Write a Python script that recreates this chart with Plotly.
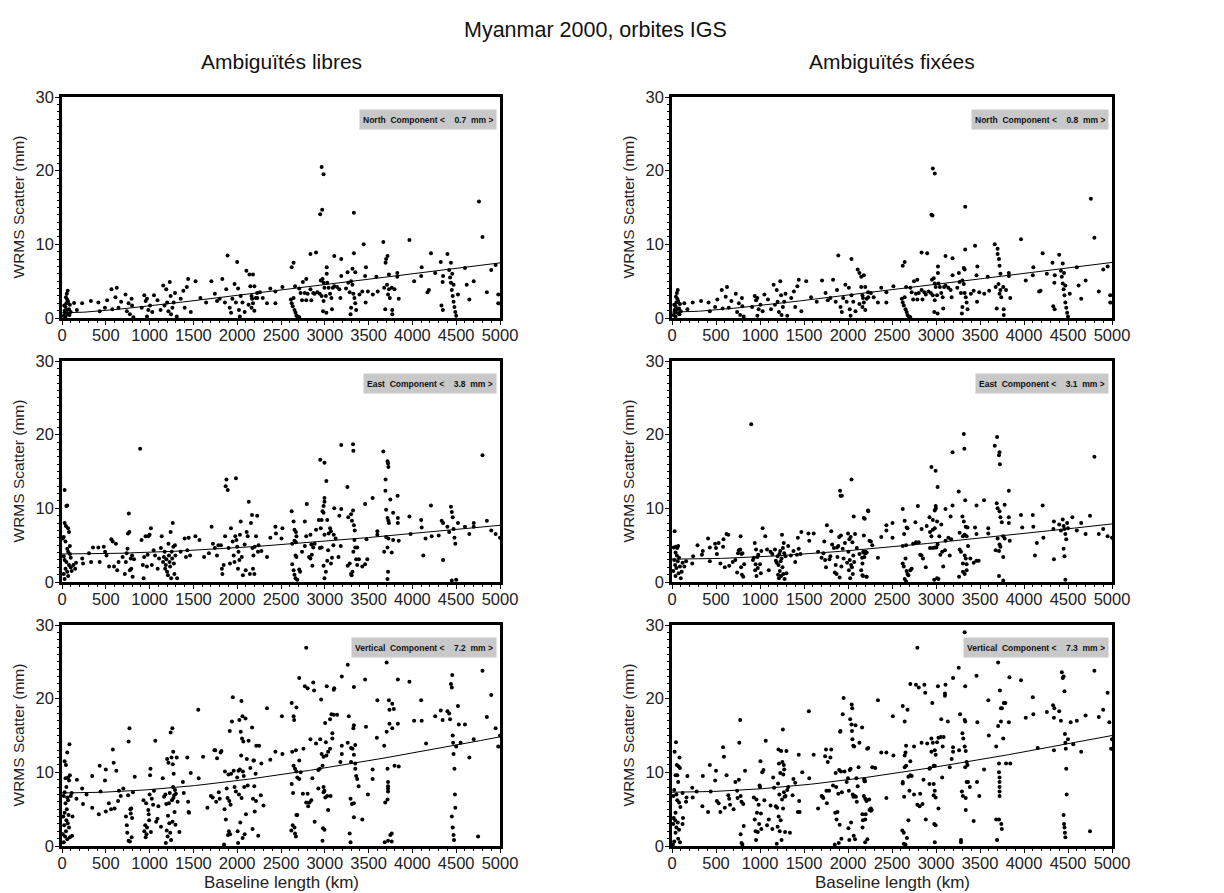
import math
import plotly.graph_objects as go

# ---------------- data (baseline km, WRMS mm) ----------------
north_libre = [
(20,0.3),(30,1.0),(40,1.5),(50,2.0),(60,2.5),(55,3.3),(65,3.7),(70,0.5),(80,1.2),(90,1.8),(40,0.2),(100,0.8),(70,2.2),(45,2.8),(85,0.4),(25,1.7),(60,1.1),(35,0.7),
(138,2.05),(170,1.1),(230,2.0),(330,2.3),(415,2.1),(430,0.9),(490,1.4),(515,2.4),(565,3.9),(610,2.8),(625,4.1),(575,1.2),(645,1.4),(675,2.2),(725,3.2),(740,0.9),(775,0.5),(795,2.6),(760,2.0),(800,1.7),(815,0.1),
(910,1.4),(940,3.1),(955,2.3),(970,2.6),(985,1.1),(970,0.2),(1005,1.7),(1030,0.8),(1050,3.1),(1090,2.4),(1125,1.1),(1155,4.4),(1170,1.7),(1190,3.9),(1200,2.1),(1215,0.9),(1230,4.9),(1240,3.0),(1245,0.5),(1260,1.4),(1275,2.1),(1290,3.4),(1310,0.2),(1355,2.6),(1385,3.7),(1400,1.4),(1425,4.2),(1440,5.3),(1470,0.8),(1525,5.0),(1580,2.7),(1645,2.1),(1705,5.0),(1745,3.3),(1770,2.3),(1800,2.6),(1830,5.3),(1860,2.1),(1875,3.9),(1890,8.5),(1915,1.4),(1930,0.7),(1945,2.6),(1970,4.6),(1985,2.1),(2000,7.6),(2010,4.0),(2020,1.1),(2030,0.2),(2040,3.0),(2060,2.1),(2085,0.8),(2105,6.4),(2140,5.9),(2130,1.8),(2150,4.3),(2170,2.6),(2230,2.7),
(2180,5.9),(2196,4.3),(2164,3.0),(2228,3.4),(2260,3.5),(2292,2.7),(2212,2.7),(2180,2.0),(2164,1.4),(2196,1.0),(2340,2.0),(2378,4.0),(2436,3.6),(2436,2.0),(2516,4.2),(2612,2.5),(2622,2.0),(2634,1.6),(2644,2.7),(2654,1.1),(2666,0.7),(2676,0.3),(2692,0.2),(2708,0.1),(2660,4.3),(2708,4.0),(2750,4.9),(2788,5.3),(2724,3.4),(2772,3.4),(2804,3.3),(2836,3.9),(2868,3.4),(2740,2.4),(2788,2.4),(2846,2.4),(2884,3.3),(2916,3.5),(2954,5.1),(2974,5.3),(2986,4.8),(2996,4.1),(2942,3.3),(2964,3.0),(2986,2.3),(3012,3.0),(3028,4.8),(3044,4.1),(3060,3.3),(3076,2.7),(2980,0.9),(3018,0.7),(3082,1.2),(3092,4.1),(3108,4.3),(3140,4.2),(3166,3.9),(3178,2.7),(3242,4.0),(3268,4.8),(3284,3.5),(3300,5.0),(3316,4.5),(3326,3.3),(3338,2.7),(3348,2.0),(3358,1.1),(3300,1.4),(3294,0.5),(3396,3.2),(3428,3.6),(3466,2.1),(3492,3.6),(3548,3.2),(3604,3.6),(3678,4.1),(3710,4.5),(3732,3.9),(3722,3.2),(3742,2.7),(3764,4.1),(3796,3.9),(3844,2.6),(3690,1.2),(3770,1.1),(3770,0.5),(4172,3.5),(4188,3.8),(4332,1.7),(4348,1.1),
(2964,20.5),(2986,19.5),(2948,14.1),(2970,14.7),(3332,14.3),(3444,10.0),(3668,10.3),(3966,10.6),(4212,8.8),(2836,8.7),(2900,8.9),(3108,8.4),(3188,8.0),(3332,8.8),(2644,7.5),(2622,6.9),(3700,8.0),(3716,8.4),(3694,7.5),(4324,7.6),(4106,6.9),(3022,6.9),(3316,6.7),(3348,6.2),(3470,6.9),(3260,6.2),(3022,6.0),(3188,5.7),(3460,5.7),(3588,5.6),(3732,5.9),(3828,6.1),(3828,5.6),(4260,6.1),(4100,5.7),(4020,5.0),(4350,5.7),(4345,4.9),
(4420,6.5),(4430,5.5),(4440,4.8),(4450,3.8),(4460,3.0),(4470,2.2),(4480,1.5),(4490,0.8),(4500,0.3),(4440,7.5),(4455,6.0),(4470,4.5),(4520,3.2),(4600,6.8),(4620,4.5),(4650,2.5),(4700,5.0),(4760,15.8),(4800,11.0),(4850,3.5),(4900,6.5),(4950,7.2),(4980,3.2),(4980,2.0),(4400,8.7)]

north_fixe = [
(20,0.4),(30,1.1),(40,1.6),(50,2.1),(60,2.6),(55,3.4),(65,3.8),(70,0.6),(80,1.3),(90,1.9),(40,0.2),(100,0.9),(70,2.3),(45,2.9),(85,0.5),(25,1.8),(60,1.2),(35,0.8),
(140,2.0),(175,1.2),(235,2.1),(330,2.3),(415,2.1),(430,0.9),(490,1.5),(515,2.5),(565,3.8),(610,2.9),(625,4.2),(575,1.3),(645,1.4),(675,2.3),(725,3.3),(740,0.8),(775,0.4),(795,2.7),(760,2.0),(800,1.6),(815,0.2),
(910,1.5),(940,3.0),(955,2.4),(970,2.7),(985,1.2),(970,0.3),(1005,1.8),(1030,0.9),(1050,3.2),(1090,2.5),(1125,1.2),(1155,4.5),(1170,1.8),(1190,3.8),(1200,2.2),(1215,0.8),(1230,5.0),(1240,3.1),(1245,0.4),(1260,1.5),(1275,2.2),(1290,3.3),(1310,0.3),(1355,2.7),(1385,3.6),(1400,1.5),(1425,4.3),(1440,5.2),(1470,0.9),(1525,5.0),(1580,2.8),(1645,2.2),(1705,5.1),(1745,3.4),(1770,2.4),(1800,2.7),(1830,5.2),(1860,2.2),(1875,3.8),(1890,8.5),(1915,1.5),(1930,0.8),(1945,2.7),(1970,4.5),(1985,2.2),(2040,8.0),(2010,4.1),(2020,1.2),(2030,0.3),(2040,3.1),(2060,2.2),(2085,0.9),(2110,6.6),(2130,6.1),(2150,5.6),(2130,1.9),(2150,4.2),(2170,2.7),(2230,2.8),
(2180,5.8),(2196,4.2),(2164,3.1),(2228,3.5),(2260,3.4),(2292,2.8),(2212,2.6),(2180,2.1),(2164,1.5),(2196,1.1),(2340,2.1),(2378,4.1),(2436,3.5),(2436,2.1),(2516,4.3),(2612,2.6),(2622,2.1),(2634,1.7),(2644,2.8),(2654,1.2),(2666,0.8),(2676,0.4),(2692,0.2),(2708,0.1),(2660,4.2),(2708,4.1),(2750,5.0),(2788,5.2),(2724,3.5),(2772,3.3),(2804,3.4),(2836,3.8),(2868,3.5),(2740,2.5),(2788,2.5),(2846,2.5),(2884,3.2),(2916,3.6),(2954,5.2),(2974,5.4),(2986,4.7),(2996,4.2),(2942,3.4),(2964,3.1),(2986,2.4),(3012,3.1),(3028,4.7),(3044,4.2),(3060,3.4),(3076,2.8),(2980,0.8),(3018,0.6),(3082,1.3),(3092,4.2),(3108,4.4),(3140,4.1),(3166,3.8),(3178,2.8),(3242,4.1),(3268,4.9),(3284,3.4),(3300,5.1),(3316,4.6),(3326,3.4),(3338,2.8),(3348,2.1),(3358,1.2),(3300,1.5),(3294,0.6),(3396,3.3),(3428,3.7),(3466,2.2),(3492,3.5),(3548,3.3),(3604,3.7),(3678,4.2),(3710,4.6),(3732,3.8),(3722,3.3),(3742,2.8),(3764,4.2),(3796,3.8),(3844,2.7),(3690,1.3),(3770,1.2),(3770,0.4),(4172,3.6),(4188,3.7),(4332,1.6),(4348,1.2),
(2964,20.3),(2986,19.6),(2948,14.0),(2960,13.9),(3332,15.1),(3444,9.8),(3668,10.0),(3966,10.7),(4212,8.8),(2836,8.9),(2900,8.8),(3108,8.4),(3188,8.1),(3332,9.3),(2644,7.6),(2622,7.1),(3700,8.7),(3700,9.4),(3716,8.0),(3722,7.1),(4324,7.5),(4106,6.9),(3022,7.0),(3316,6.8),(3326,6.6),(3470,7.0),(3260,6.1),(3022,6.1),(3188,5.8),(3460,5.8),(3588,5.6),(3732,6.0),(3828,6.1),(3828,5.7),(4260,6.0),(4100,5.8),(4020,5.1),(4350,5.8),(4345,4.8),
(4420,6.4),(4430,5.6),(4440,4.7),(4450,3.9),(4460,3.1),(4470,2.1),(4480,1.4),(4490,0.7),(4500,0.2),(4440,7.4),(4455,6.1),(4470,4.4),(4520,3.3),(4600,6.9),(4620,4.4),(4650,2.6),(4700,5.1),(4760,16.2),(4800,10.9),(4850,3.6),(4900,6.6),(4950,7.0),(4980,3.1),(4980,2.1),(4400,8.6)]

east_libre = [
(30,12.5),(50,10.3),(60,10.4),(30,8.0),(45,7.6),(70,7.3),(80,6.8),(20,6.1),(10,5.9),(40,5.5),(60,4.5),(70,4.1),(90,3.8),(20,3.5),(30,3.0),(50,2.7),(80,2.3),(100,2.0),(40,1.8),(60,1.4),(20,1.1),(70,0.8),(30,0.4),(110,1.5),(130,2.3),(150,1.8),(160,2.6),(90,4.9),(100,3.3),
(231,3.2),(240,2.5),(308,3.9),(332,2.7),(354,4.7),(415,4.7),(430,2.7),(477,4.8),(492,4.1),(508,3.6),(538,2.1),(563,5.8),(578,5.5),(594,2.1),(615,5.2),(630,1.6),(646,2.7),(692,3.4),(717,1.1),(729,2.7),(738,3.9),(748,4.5),(754,6.6),(769,6.8),(775,1.6),(785,3.2),(791,1.8),(763,9.3),(800,3.6),(806,0.7),(822,3.1),(892,18.1),(908,5.7),(923,2.3),(932,0.5),(938,3.4),(954,6.2),(969,2.1),(978,3.7),(985,6.2),(1000,6.4),(1015,7.3),(1025,2.3),(1046,4.3),(1062,3.6),(1092,1.8),(1108,3.2),(1129,4.6),(1138,6.2),(1154,2.7),(1163,3.4),(1172,4.1),(1178,1.8),(1185,2.3),(1191,3.1),(1200,1.4),(1209,0.9),(1215,5.2),(1221,3.6),(1228,2.7),(1234,2.1),(1240,6.8),(1246,0.5),(1252,4.1),(1258,3.2),(1264,8.0),(1271,4.8),(1277,2.5),(1283,1.1),(1289,5.0),(1295,3.6),(1314,0.5),(1354,4.1),(1400,5.9),(1415,3.4),(1431,4.3),(1446,6.0),(1462,3.6),(1523,6.2),(1569,5.7),(1622,3.4),(1677,3.9),(1708,7.5),(1723,5.2),(1745,4.6),(1769,3.6),(1785,5.0),(1815,5.0),(1825,1.8),(1831,1.1),(1846,2.3),(1862,6.2),(1868,13.0),(1877,13.9),(1892,12.5),(1902,4.6),(1917,2.5),(1929,7.3),(1948,5.5),(1960,3.6),(1969,2.7),(1978,6.2),(1985,14.1),(1991,5.7),(2000,4.8),(2009,1.8),(2015,4.1),(2025,3.0),(2031,6.4),(2040,8.2),(2052,3.4),(2065,0.9),(2085,5.1),(2097,1.6),(2108,6.8),(2120,6.2),(2132,10.9),(2145,1.1),(2157,8.0),(2169,9.1),(2185,3.6),(2200,4.8),(2215,6.2),(2237,4.1),
(3188,18.6),(3322,18.7),(3326,17.8),(3668,17.7),(3716,16.4),(3722,16.1),(3726,15.6),(2948,16.6),(2996,16.2),(3018,13.7),(3258,12.9),(3694,13.9),(3692,12.4),(3748,11.2),(3831,11.7),(3546,11.4),(3460,10.6),(2996,11.4),(2996,10.9),(2986,10.3),(2794,10.6),(3108,10.0),(3188,9.9),(3166,9.0),(3268,8.8),(3300,9.2),(3322,9.7),(3310,8.3),(3332,7.7),(3342,7.0),(3700,9.8),(3716,8.7),(3726,8.3),(3732,8.0),(3780,9.4),(3834,8.7),(3834,8.0),(3966,8.9),(4100,8.4),(4106,7.4),(4212,10.4),(4334,8.3),(4350,8.0),(2622,9.6),(2644,8.2),(2654,7.1),(2670,6.8),(2676,6.2),(2654,5.6),(2628,5.2),(2670,5.4),(2378,6.0),(2436,7.5),(2442,6.6),(2516,7.3),(2506,5.9),(2772,8.2),(2788,6.2),(2836,6.4),(2900,7.1),(2932,8.4),(2964,8.4),(2954,7.3),(2974,9.6),(2986,9.4),(2996,6.4),(3028,8.4),(3044,6.6),(3060,7.3),(3070,6.9),(3102,6.4),(3124,5.9),(2846,5.1),(2868,4.7),(2740,4.1),(2772,4.9),(2820,3.4),(2836,3.2),(2852,3.7),(2858,2.2),(2884,5.2),(2942,4.6),(2964,4.7),(2986,2.2),(3012,1.4),(3028,2.9),(3038,4.3),(3070,2.5),(3082,3.3),(3098,5.0),(3156,3.4),(3182,4.9),(3262,2.2),(3284,2.5),(3300,1.1),(3306,0.9),(3316,1.4),(3326,4.1),(3338,5.7),(3348,4.7),(3358,3.1),(3370,4.7),(3370,2.3),(3390,3.1),(3428,2.1),(3460,2.4),(3485,3.1),(3476,5.8),(3600,6.9),(3600,6.4),(3678,4.1),(3700,6.1),(3716,4.7),(3726,5.9),(3764,4.0),(3780,5.7),(3844,5.6),(3980,6.5),(4124,3.6),(4150,5.9),(4220,6.2),(4300,6.3),(4350,3.0),(2628,2.4),(2644,1.6),(2654,1.0),(2666,0.5),(2686,0.3),(2708,1.7),(2718,1.4),(2676,3.4),(2666,3.6),(2340,3.4),(2276,4.2),(2244,5.0),(2228,9.0),(2996,0.5),(3722,1.4),(3716,0.4),(2174,4.6),(2180,1.8),(2196,1.1),
(4400,7.5),(4420,6.8),(4440,10.2),(4450,9.5),(4460,8.8),(4470,7.2),(4480,6.0),(4490,5.2),(4500,0.3),(4450,0.2),(4520,8.0),(4600,7.5),(4650,6.5),(4700,7.5),(4800,17.2),(4850,8.3),(4900,7.0),(4950,6.5),(5000,6.0),(4700,8.0)]

east_fixe = [
(30,6.9),(20,4.7),(45,4.8),(60,4.6),(70,4.9),(40,4.0),(55,3.6),(80,3.3),(25,3.0),(65,2.8),(35,2.3),(90,2.1),(50,1.9),(15,1.5),(75,1.2),(40,0.8),(100,0.5),(110,1.4),(120,2.6),(140,2.1),(160,2.8),(230,2.5),(240,3.5),(290,5.0),(340,3.7),(350,4.2),(410,5.9),(430,4.7),(430,2.8),(490,5.2),(500,4.6),(510,3.8),(530,5.3),(550,2.5),(580,4.8),(585,5.8),(600,2.0),(620,6.5),(640,6.4),(650,2.2),(690,2.7),(720,3.0),(740,1.3),(750,3.9),(760,4.3),(775,4.4),(780,6.2),(785,2.0),(790,3.8),(795,1.0),(800,3.9),(810,0.7),(820,2.4),(900,21.4),(920,3.0),(930,3.3),(940,5.3),(945,1.6),(950,2.4),(955,4.4),(960,0.8),(970,3.4),(975,1.9),(980,3.7),(1000,2.4),(1010,1.2),(1015,4.2),(1030,7.3),(1060,6.2),(1080,4.4),(1100,1.6),(1120,4.1),(1140,3.8),(1170,4.4),(1180,2.9),(1190,2.6),(1200,3.5),(1205,1.0),(1210,2.3),(1215,0.5),(1220,3.8),(1225,1.5),(1230,4.2),(1235,2.8),(1240,0.8),(1245,3.2),(1250,6.4),(1255,2.0),(1260,4.6),(1265,1.1),(1270,5.3),(1275,3.9),(1280,0.4),(1290,3.5),(1300,1.2),(1320,4.9),(1350,3.6),(1380,4.2),(1400,2.7),(1420,3.7),(1430,6.0),(1440,4.5),(1460,3.8),(1470,6.8),(1550,6.6),(1560,5.6),(1610,6.6),(1660,4.1),(1700,3.3),(1720,3.9),(1730,5.5),(1740,3.0),(1750,2.0),(1760,7.7),(1790,3.1),(1800,3.5),(1810,6.9),(1820,5.1),(1840,4.6),(1850,1.3),(1860,2.3),(1870,1.1),(1875,4.7),(1880,3.4),(1890,4.9),(1900,6.1),(1905,0.6),(1910,12.4),(1915,11.7),(1920,6.3),(1925,2.1),(1930,11.7),(1940,4.5),(1950,3.2),(1965,5.3),(1990,2.6),(2000,6.6),(2005,4.1),(2010,1.6),(2015,5.8),(2020,3.0),(2025,0.5),(2030,6.1),(2035,2.3),(2040,13.9),(2045,2.0),(2050,5.4),(2055,1.1),(2060,3.6),(2065,8.9),(2070,2.7),(2080,6.5),(2100,4.6),(2130,3.8),(2150,1.6),(2160,3.3),(2170,0.8),(2175,4.0),(2180,6.3),(2190,8.6),(2200,4.1),(2210,0.7),(2230,9.6),(2260,5.5),
(3316,20.1),(3322,18.1),(3694,19.7),(3668,18.5),(3722,17.6),(3716,17.2),(3726,16.0),(3188,17.6),(2948,15.6),(2996,15.1),(3018,12.9),(3258,12.3),(3828,12.4),(3332,11.1),(3546,11.1),(3460,10.4),(3188,10.4),(2996,10.3),(2986,9.7),(2998,10.0),(3108,9.9),(2794,10.3),(2622,9.9),(2228,9.7),(2180,8.7),(3166,8.9),(2926,8.8),(2964,8.4),(3300,8.9),(3316,8.2),(3338,7.5),(3358,7.4),(3690,10.7),(3700,10.0),(3722,9.6),(3732,8.8),(3748,8.1),(3780,10.5),(3828,8.8),(3828,8.0),(3966,9.1),(4100,9.1),(4106,7.5),(4212,10.4),(4340,8.2),(4334,7.2),(3980,7.4),(2644,8.3),(2666,7.4),(2676,7.3),(2638,6.5),(2622,4.9),(2660,5.0),(2766,8.1),(2836,7.2),(2894,7.6),(2932,6.8),(2948,6.2),(2964,7.1),(2986,7.3),(3012,8.2),(3038,6.2),(3060,7.8),(3108,5.6),(3140,6.0),(3172,5.8),(3268,6.7),(3306,6.2),(3326,6.4),(3348,6.2),(3364,4.9),(3444,7.4),(3460,6.5),(3594,7.3),(3594,6.6),(3700,5.9),(3722,5.1),(3732,4.8),(3764,6.2),(3780,5.9),(3838,5.6),(3678,4.3),(3716,4.2),(3764,3.4),(4146,5.3),(4220,6.0),(4124,3.6),(4340,3.1),(2378,6.1),(2436,7.0),(2436,7.7),(2506,8.0),(2506,6.0),(2244,5.6),(2276,5.0),(2340,3.3),(2174,4.1),(2196,3.9),(2212,4.0),(2164,2.5),(2186,3.4),(2164,0.9),(2212,0.7),(2740,5.2),(2772,5.4),(2804,5.4),(2820,3.7),(2836,3.6),(2852,3.2),(2884,2.0),(2932,4.6),(2964,4.6),(2986,4.7),(3004,4.7),(3018,5.1),(3050,3.7),(3070,4.1),(3082,2.1),(3102,4.3),(3156,3.6),(3268,4.4),(3284,4.1),(3306,2.5),(3326,3.6),(3338,3.2),(3348,2.4),(3348,1.6),(3326,1.1),(3306,1.4),(3262,0.7),(3390,3.2),(3428,2.6),(3460,2.9),(3485,2.9),(2622,2.5),(2634,2.1),(2654,3.2),(2666,1.5),(2676,1.1),(2686,0.9),(2708,1.6),(2724,1.8),(2644,0.4),(2660,0.1),(2980,0.3),(3012,0.5),(3028,0.4),(3716,0.8),(3764,0.2),
(4420,7.0),(4440,8.5),(4450,7.6),(4460,7.2),(4470,6.5),(4480,5.8),(4490,8.0),(4450,4.5),(4460,3.5),(4470,0.3),(4500,7.3),(4550,8.8),(4600,7.0),(4650,8.0),(4700,6.5),(4750,9.0),(4800,17.0),(4850,6.5),(4900,7.2),(4950,6.2),(5000,6.0),(4400,7.8)]

vert_libre = [
(30,11.5),(45,11.0),(60,12.7),(85,13.8),(40,9.2),(70,9.3),(90,9.6),(80,8.9),(50,8.0),(30,7.3),(20,6.8),(60,6.6),(70,6.2),(100,6.8),(110,7.2),(40,5.8),(55,5.0),(30,4.5),(75,4.2),(15,4.0),(50,3.5),(65,3.1),(25,2.8),(80,2.5),(45,2.0),(10,1.6),(35,1.3),(60,0.9),(20,0.5),(90,1.2),(115,1.4),(120,4.0),(165,6.4),(170,9.0),(230,7.8),(240,5.7),(280,7.0),(345,9.5),(345,5.2),(420,4.3),(430,10.9),(440,7.4),(490,8.9),(500,10.4),(500,4.7),(535,5.8),(560,5.0),(580,13.1),(590,11.3),(600,5.1),(620,10.2),(640,6.1),(650,7.5),(670,6.8),(700,7.8),(730,4.0),(740,2.8),(745,1.8),(755,6.9),(760,14.2),(770,16.0),(760,0.7),(775,0.6),(780,5.0),(785,4.4),(790,5.1),(795,1.2),(800,3.8),(810,7.3),(830,9.4),(930,6.2),(940,2.0),(950,2.8),(955,1.2),(960,5.8),(965,1.6),(970,2.5),(985,4.9),(990,4.3),(995,3.5),(1000,7.0),(1005,9.6),(1010,10.5),(1015,1.9),(1025,6.4),(1040,5.6),(1050,7.5),(1065,14.3),(1075,3.3),(1090,3.7),(1100,5.4),(1130,2.6),(1150,9.2),(1165,6.7),(1180,7.0),(1185,0.4),(1190,5.7),(1195,2.1),(1200,11.8),(1205,1.3),(1210,4.1),(1215,11.3),(1220,5.8),(1225,3.1),(1230,7.2),(1235,1.8),(1240,15.4),(1245,0.8),(1250,12.0),(1255,6.2),(1260,16.0),(1262,3.3),(1265,11.1),(1268,8.0),(1270,12.8),(1272,6.5),(1275,9.8),(1280,6.9),(1285,4.6),(1290,7.6),(1295,2.9),(1300,7.1),(1310,12.0),(1320,6.0),(1340,1.9),(1380,8.7),(1390,7.2),(1430,12.0),(1440,6.0),(1445,4.6),(1450,4.5),(1470,9.9),(1555,18.5),(1560,9.2),(1610,12.1),(1660,5.2),(1700,6.8),(1720,6.6),(1740,13.0),(1750,13.0),(1760,6.0),(1770,11.9),(1790,7.3),(1800,6.4),(1810,12.7),(1820,12.9),(1850,0.2),(1855,5.0),(1860,10.1),(1870,3.6),(1880,7.8),(1890,6.5),(1895,1.5),(1900,9.7),(1905,2.0),(1910,6.1),(1915,15.6),(1920,1.6),(1925,5.6),(1930,9.8),(1940,16.9),(1950,20.2),(1960,10.2),(1970,8.0),(1985,7.4),(2000,9.3),(2005,2.0),(2010,0.4),(2015,10.2),(2020,7.0),(2025,17.1),(2030,10.4),(2035,3.2),(2040,15.5),(2045,12.3),(2048,19.7),(2050,6.5),(2055,14.6),(2060,17.6),(2062,1.1),(2065,10.1),(2070,14.2),(2075,9.5),(2080,8.0),(2085,1.6),(2095,17.3),(2100,4.3),(2110,11.8),(2120,8.2),(2130,14.3),(2150,10.6),(2170,16.1),(2175,2.3),(2180,6.4),(2190,11.6),(2195,8.1),(2200,4.7),(2210,9.8),(2215,6.1),(2240,1.4),(2250,13.6),(2270,6.9),(2300,5.5),
(2788,26.9),(3262,24.6),(3706,24.9),(2708,22.8),(2772,21.7),(2804,21.4),(2868,22.2),(2878,21.1),(3022,21.7),(3108,21.4),(3102,21.2),(3194,23.0),(3332,21.6),(3460,22.6),(3834,22.6),(3966,22.3),(2340,18.7),(2622,19.4),(2676,18.8),(2644,17.6),(2650,17.1),(2510,17.6),(2958,19.9),(3004,16.7),(3076,17.9),(3102,17.8),(3140,17.8),(3060,17.2),(3274,17.6),(3332,16.4),(3326,16.0),(3470,16.2),(3600,19.8),(3732,19.8),(3770,19.3),(3738,18.5),(3788,18.6),(3738,16.6),(3706,15.5),(3770,16.0),(3834,16.6),(4020,17.0),(4106,17.0),(4100,19.8),(4260,17.6),(4324,18.4),(4345,17.1),(3594,14.7),(4156,13.9),(3678,13.6),(2836,14.5),(2900,13.9),(2948,14.5),(3012,14.1),(2964,12.5),(2986,12.1),(3018,12.3),(3038,12.8),(3060,13.2),(3086,14.6),(3086,15.3),(3262,14.0),(3194,13.6),(3194,12.5),(3178,11.4),(3300,13.3),(3316,13.2),(3332,12.4),(3348,13.7),(2756,13.2),(2670,13.0),(2708,11.6),(2628,12.8),(2218,13.6),(2186,11.6),(2276,11.2),(2378,11.7),(2436,12.8),(2516,12.5),(2644,10.9),(2660,10.5),(2676,10.1),(2724,10.0),(2686,9.3),(2708,9.1),(2622,8.4),(2638,7.2),(2750,7.1),(2804,7.1),(2858,9.2),(2926,10.3),(2942,10.5),(2974,10.9),(2986,8.0),(2996,7.5),(2986,7.3),(3006,6.6),(3028,6.8),(3066,6.8),(2926,7.8),(3038,4.9),(2788,5.9),(2826,5.9),(2810,5.4),(2846,6.2),(2884,3.3),(2980,2.4),(2996,2.2),(2974,0.7),(2676,4.2),(2686,4.2),(2634,2.8),(2654,2.5),(2618,2.1),(2660,1.7),(2670,1.3),(3284,1.7),(3294,0.5),(3300,11.4),(3348,11.2),(3348,10.5),(3358,9.5),(3370,9.1),(3386,8.1),(3294,6.4),(3310,5.7),(3332,5.8),(3332,3.9),(3428,3.6),(3492,7.0),(3546,10.4),(3546,9.1),(3716,10.5),(3722,8.7),(3722,8.1),(3722,7.8),(3722,7.4),(3716,6.3),(3690,5.9),(3796,10.9),(3844,10.8),(3684,0.5),(3722,0.7),(3748,1.5),(3764,0.6),(3764,1.7),
(4400,18.3),(4420,18.0),(4430,17.2),(4440,22.0),(4450,21.5),(4455,23.2),(4460,15.0),(4465,14.0),(4470,12.5),(4480,10.5),(4485,7.0),(4490,5.2),(4450,4.0),(4460,2.5),(4470,1.5),(4475,0.8),(4500,13.5),(4520,19.0),(4530,16.5),(4550,14.0),(4600,16.5),(4650,12.0),(4700,14.5),(4750,1.3),(4800,23.8),(4850,17.5),(4900,20.5),(4950,16.0),(4980,13.5),(5000,15.0)]

vert_fixe = [
(15,6.8),(30,12.8),(45,14.1),(55,11.0),(60,9.6),(75,10.8),(85,12.0),(90,10.6),(40,9.6),(70,8.7),(25,7.6),(50,7.0),(60,6.2),(80,5.9),(95,5.3),(40,4.5),(20,3.8),(35,3.5),(65,3.2),(15,3.0),(50,2.5),(80,2.2),(40,1.8),(70,1.0),(25,0.6),(10,0.2),(90,0.5),(120,7.2),(125,3.8),(120,3.0),(160,6.0),(165,6.6),(175,9.5),(230,7.9),(235,6.6),(280,7.4),(345,5.4),(350,9.5),(410,4.6),(430,11.0),(440,7.4),(490,8.9),(500,10.2),(510,6.1),(530,5.8),(550,4.6),(580,13.4),(590,12.1),(600,5.2),(620,9.6),(640,6.9),(650,6.4),(660,5.6),(700,5.0),(720,8.7),(740,7.5),(745,6.5),(760,9.0),(765,14.0),(775,17.1),(780,6.8),(780,1.6),(790,0.4),(790,6.0),(800,0.2),(810,5.7),(815,2.7),(830,10.2),(930,6.6),(940,3.6),(950,2.0),(955,0.8),(960,6.3),(965,4.5),(975,1.9),(985,5.6),(990,3.0),(995,8.2),(1000,8.0),(1005,11.5),(1010,4.4),(1015,2.3),(1025,10.0),(1040,10.3),(1050,6.2),(1065,14.3),(1080,2.8),(1100,3.6),(1120,5.5),(1140,2.3),(1150,9.3),(1160,7.9),(1180,5.4),(1190,0.3),(1195,5.2),(1200,2.6),(1205,8.5),(1210,13.1),(1212,4.0),(1215,11.2),(1220,7.0),(1225,2.0),(1230,9.9),(1235,3.5),(1240,12.9),(1245,0.8),(1250,6.3),(1255,11.4),(1260,15.8),(1262,5.1),(1265,9.7),(1270,11.0),(1272,7.3),(1275,10.4),(1280,6.7),(1285,1.9),(1290,6.8),(1300,12.9),(1310,7.6),(1320,8.0),(1340,1.8),(1370,6.9),(1380,9.1),(1400,8.6),(1430,4.6),(1440,12.4),(1445,6.1),(1450,4.6),(1480,10.0),(1555,18.3),(1560,9.2),(1610,12.4),(1660,5.1),(1700,6.8),(1710,6.7),(1720,6.5),(1740,12.2),(1750,13.1),(1755,7.5),(1760,5.8),(1770,11.4),(1785,7.5),(1800,12.0),(1810,13.1),(1830,8.2),(1850,0.2),(1855,4.5),(1860,9.9),(1865,8.0),(1870,3.6),(1880,4.6),(1890,7.1),(1895,0.4),(1900,10.3),(1905,2.9),(1910,15.5),(1915,15.6),(1920,10.1),(1925,1.0),(1930,7.3),(1940,17.9),(1950,20.1),(1960,10.1),(1985,8.7),(2000,9.2),(2005,2.4),(2010,7.5),(2015,0.8),(2020,10.3),(2025,17.2),(2030,10.5),(2035,3.2),(2040,16.5),(2042,19.2),(2045,15.6),(2048,18.7),(2050,14.5),(2055,7.0),(2060,13.6),(2062,6.7),(2065,1.4),(2070,13.5),(2075,6.8),(2080,0.9),(2085,16.4),(2090,6.7),(2095,9.2),(2100,6.0),(2110,8.1),(2120,10.7),(2130,14.0),(2160,16.1),(2165,2.5),(2170,3.5),(2180,6.8),(2185,9.0),(2190,8.8),(2195,0.5),(2200,4.3),(2210,6.1),(2220,0.9),(2230,13.3),(2240,6.3),(2260,4.8),(2270,4.9),(2310,10.6),
(3326,29.0),(2788,26.9),(3706,24.9),(3258,24.2),(3460,23.1),(3194,22.8),(3834,22.9),(3966,22.5),(2708,22.0),(2772,21.9),(2804,21.5),(2868,21.9),(2878,20.8),(3022,21.7),(3108,21.9),(3102,20.7),(3102,20.4),(3332,21.7),(3726,21.1),(4100,20.2),(2340,19.8),(2622,19.0),(2676,18.5),(2644,16.9),(2510,17.6),(2958,19.4),(3770,19.4),(3788,19.4),(3738,18.7),(3748,18.7),(3594,19.8),(3274,17.9),(3326,17.1),(3332,16.9),(3060,17.2),(3134,16.9),(3470,16.8),(3706,16.3),(3738,16.9),(3828,16.8),(4020,17.4),(4106,17.9),(4260,18.2),(4330,19.1),(4345,18.7),(4340,17.4),(3600,15.0),(3684,13.5),(3764,14.6),(2836,14.0),(2900,13.9),(2948,14.6),(2964,14.0),(3012,14.1),(3028,14.7),(3054,14.8),(3086,14.8),(3076,13.5),(3300,15.3),(3310,14.6),(3262,13.0),(3194,13.4),(3194,12.8),(3178,11.8),(3326,13.5),(3338,12.9),(3348,11.4),(3332,10.7),(3358,11.0),(2660,13.6),(2654,12.7),(2644,12.3),(2750,13.5),(2378,12.7),(2436,12.7),(2516,12.3),(2218,13.2),(2708,11.5),(2660,10.9),(2644,10.7),(2276,10.7),(2926,10.5),(2948,12.8),(2986,13.0),(2996,12.4),(2974,10.9),(2986,10.9),(2932,10.6),(3156,10.7),(3546,10.4),(3716,11.2),(3716,10.0),(3722,9.3),(3722,8.7),(3722,8.0),(3722,7.4),(3722,6.8),(3796,11.2),(3844,11.2),(4156,13.3),(4340,13.0),(2186,9.1),(2192,8.8),(2622,8.7),(2622,8.5),(2686,9.4),(2708,9.6),(2724,9.5),(2858,9.0),(2926,8.4),(2974,8.4),(3070,9.3),(2986,7.5),(2974,6.9),(2996,6.6),(3028,5.1),(2820,7.1),(2750,7.0),(2698,7.5),(2638,6.7),(2788,5.6),(2814,5.4),(2846,5.7),(2884,3.6),(2980,3.0),(2996,2.8),(2986,0.5),(3294,7.4),(3306,6.8),(3338,6.5),(3348,8.7),(3364,8.7),(3384,8.0),(3466,8.7),(3492,6.8),(3338,4.9),(3428,3.4),(3684,3.6),(3716,3.6),(3742,3.0),(3748,2.3),(3694,0.8),(2244,4.9),(2212,6.2),(2196,6.4),(2260,5.1),(2436,6.5),(2686,3.5),(2618,2.1),(2634,1.8),(2670,1.1),(2634,0.3),(2654,0.2),(3284,0.8),(3284,0.5),(2196,3.6),(2164,4.3),
(4400,18.3),(4420,17.0),(4430,23.6),(4440,22.8),(4450,23.0),(4460,21.0),(4465,15.2),(4470,14.0),(4475,13.2),(4480,10.5),(4485,7.0),(4450,4.2),(4455,3.0),(4460,2.5),(4465,1.8),(4470,1.2),(4500,14.5),(4530,16.8),(4560,13.8),(4600,17.0),(4650,12.8),(4700,17.7),(4750,2.0),(4800,23.8),(4850,17.5),(4900,18.5),(4950,20.8),(4970,16.8),(5000,14.5),(4990,13.2)]

# fit model  sigma = sqrt(a^2 + (b * L/1000)^2)   (a: mm, b: mm per 1000 km)
fit_a = [[0.7, 0.8], [3.8, 3.1], [7.2, 7.3]]
fit_b = [[1.49, 1.50], [1.34, 1.45], [2.59, 2.62]]
component_names = ["North", "East", "Vertical"]
column_titles = ["Ambiguïtés libres", "Ambiguïtés fixées"]
main_title = "Myanmar 2000, orbites IGS"
x_title = "Baseline length (km)"
y_title = "WRMS Scatter (mm)"
x_ticks = [0, 500, 1000, 1500, 2000, 2500, 3000, 3500, 4000, 4500, 5000]
y_ticks = [0, 10, 20, 30]

panels = [[north_libre, north_fixe], [east_libre, east_fixe], [vert_libre, vert_fixe]]

# ---------------- layout geometry (target pixels in the 1224x893 view) ----------------
W, H = 1224, 893
OFF = 8          # page body margin: the figure is drawn 8px right/down of the window corner
col_px = [(62, 500), (672, 1112)]
row_px = [(97, 318), (361, 582), (625, 846)]

def px_x(p):
    return (p - OFF) / W

def px_y(p):
    return 1 - (p - OFF) / H

fig = go.Figure()
FONT = "Liberation Sans, Arial, Helvetica, sans-serif"
NB = "\u00a0"
L_fit = [i * 25 for i in range(201)]

annotations = []
k = 0
for r in range(3):
    for c in range(2):
        k += 1
        xa = "x" if k == 1 else f"x{k}"
        ya = "y" if k == 1 else f"y{k}"
        pts = panels[r][c]
        fig.add_trace(go.Scatter(
            x=[p[0] for p in pts], y=[p[1] for p in pts], mode="markers",
            marker=dict(color="black", size=4, line=dict(width=0)),
            xaxis=xa, yaxis=ya, showlegend=False, hoverinfo="x+y"))
        a, b = fit_a[r][c], fit_b[r][c]
        fig.add_trace(go.Scatter(
            x=L_fit, y=[math.sqrt(a * a + (b * L / 1000.0) ** 2) for L in L_fit],
            mode="lines", line=dict(color="black", width=1),
            xaxis=xa, yaxis=ya, showlegend=False, hoverinfo="skip"))

        x0, x1 = col_px[c]
        y0, y1 = row_px[r]
        axcommon = dict(showgrid=False, zeroline=False, showline=True, linecolor="black",
                        linewidth=2.5, mirror=True, ticks="outside", ticklen=4,
                        tickwidth=1, tickcolor="black", automargin=False,
                        tickfont=dict(family=FONT, size=16.5, color="#222"))
        fig.layout[("xaxis" if k == 1 else f"xaxis{k}")] = dict(
            axcommon, domain=[px_x(x0), px_x(x1)], range=[0, 5000], anchor=ya,
            tickmode="array", tickvals=x_ticks, ticklabelstandoff=-4,
            minor=dict(dtick=100, ticklen=2, ticks="outside", tickcolor="black"))
        fig.layout[("yaxis" if k == 1 else f"yaxis{k}")] = dict(
            axcommon, domain=[px_y(y1), px_y(y0)], range=[0, 30], anchor=xa,
            tickmode="array", tickvals=y_ticks, ticklabelstandoff=-2,
            minor=dict(dtick=1, ticklen=2, ticks="outside", tickcolor="black"))

        annotations.append(dict(text=y_title, xref="paper", yref="paper",
                                x=px_x(x0 - 44), y=px_y((y0 + y1) / 2), textangle=-90,
                                xanchor="center", yanchor="middle", showarrow=False,
                                font=dict(family=FONT, size=15.5, color="#222")))
        if r == 2:
            annotations.append(dict(text=x_title, xref="paper", yref="paper",
                                    x=px_x((x0 + x1) / 2), y=px_y(882),
                                    xanchor="center", yanchor="middle", showarrow=False,
                                    font=dict(family=FONT, size=17, color="#222")))

        label = (f"{component_names[r]}{NB}{NB}Component{NB}<{NB}{NB}{NB}{NB}"
                 f"{fit_a[r][c]}{NB}{NB}mm{NB}>")
        annotations.append(dict(
            text=f"<b>{label}</b>", xref="paper", yref="paper",
            x=px_x(x1 - 3), y=px_y(y0 + 22), xanchor="right", yanchor="middle",
            showarrow=False, bgcolor="#c8c8c8", borderpad=3, height=13,
            font=dict(family=FONT, size=8.5, color="#111")))

annotations.append(dict(text=main_title, xref="paper", yref="paper", x=px_x(595), y=px_y(30),
                        xanchor="center", yanchor="middle", showarrow=False,
                        font=dict(family=FONT, size=21.5, color="#111")))
for c, t in enumerate(column_titles):
    annotations.append(dict(text=t, xref="paper", yref="paper",
                            x=px_x((col_px[c][0] + col_px[c][1]) / 2), y=px_y(62),
                            xanchor="center", yanchor="middle", showarrow=False,
                            font=dict(family=FONT, size=21, color="#111")))

fig.update_layout(width=W, height=H, margin=dict(l=0, r=0, t=0, b=0, autoexpand=False),
                  paper_bgcolor="white", plot_bgcolor="white",
                  annotations=annotations, showlegend=False)

fig.write_html("out.html", config={"displayModeBar": False})
